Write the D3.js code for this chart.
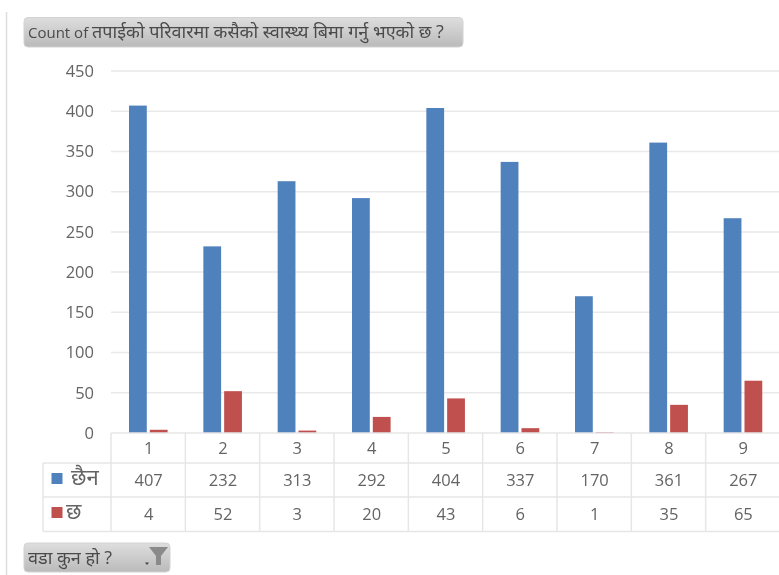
<!DOCTYPE html>
<html>

<head>
    <title>Health insurance by ward</title>
    <script src="https://d3js.org/d3.v7.min.js"></script>
    <style>
        body {
            overflow: hidden;
            margin: 0;
            padding: 0;
            background: #fff;
        }

        svg {
            display: block;
            font-family: "Open Sans", "Noto Sans", sans-serif;
            filter: blur(0.45px);
        }
    </style>
</head>

<body>
    <script>
        var width = 779,
            height = 575;

        var wards = ["1", "2", "3", "4", "5", "6", "7", "8", "9"];
        var chhaina = [407, 232, 313, 292, 404, 337, 170, 361, 267];
        var chha = [4, 52, 3, 20, 43, 6, 1, 35, 65];
        var seriesNames = ["छैन", "छ"];
        var seriesColors = ["#4f81bd", "#c0504d"];
        var yTicks = [0, 50, 100, 150, 200, 250, 300, 350, 400, 450];
        var titlePrefix = "Count of ";
        var titleText = "तपाईको परिवारमा कसैको स्वास्थ्य बिमा गर्नु भएको छ ?";
        var filterText = "वडा कुन हो ?";

        var series = [chhaina, chha];

        var svg = d3.select("body").append("svg")
            .attr("width", width)
            .attr("height", height);

        var defs = svg.append("defs");
        var grad = defs.append("linearGradient")
            .attr("id", "btn")
            .attr("x1", 0).attr("y1", 0).attr("x2", 0).attr("y2", 1);
        grad.append("stop").attr("offset", "0%").attr("stop-color", "#dedede");
        grad.append("stop").attr("offset", "100%").attr("stop-color", "#bababa");

        var left = 111,
            right = 780,
            top0 = 71,
            base = 433;

        var x = d3.scaleBand().domain(wards).range([left, right]);
        var inner = d3.scaleBand().domain([0, 1]).range([18, 56]).paddingInner(0.12);
        var y = d3.scaleLinear().domain([0, 450]).range([base, top0]);

        // page edge on the left
        svg.append("line")
            .attr("x1", 6.5).attr("x2", 6.5)
            .attr("y1", 12).attr("y2", height)
            .attr("stroke", "#dedede").attr("stroke-width", 1.5);

        // gridlines
        svg.append("g").selectAll("line")
            .data(yTicks.filter((d) => d > 0))
            .join("line")
            .attr("x1", left).attr("x2", right)
            .attr("y1", (d) => y(d)).attr("y2", (d) => y(d))
            .attr("stroke", "#e9e9e9").attr("stroke-width", 1.5);

        // y axis labels
        var yAxis = d3.axisLeft(y).tickValues(yTicks).tickSize(0).tickPadding(0);
        var yg = svg.append("g").attr("transform", "translate(94,0)").call(yAxis);
        yg.select(".domain").remove();
        yg.selectAll("text")
            .attr("font-family", '"Open Sans", sans-serif')
            .attr("font-size", 16.5)
            .attr("fill", "#646464");

        // bars
        series.forEach((values, s) => {
            svg.append("g").selectAll("rect")
                .data(values)
                .join("rect")
                .attr("x", (d, i) => x(wards[i]) + inner(s) + (s == 1 ? 0.6 : 0))
                .attr("y", (d) => y(d))
                .attr("width", inner.bandwidth())
                .attr("height", (d) => base - y(d))
                .attr("fill", seriesColors[s]);
        });

        // data table
        var rowLines = [433, 463, 497, 531.5];
        var tableLeft = 43;
        var grid = svg.append("g")
            .attr("stroke", "#e6e6e6")
            .attr("stroke-width", 1.5);

        grid.selectAll(".h")
            .data(rowLines)
            .join("line")
            .attr("x1", (d, i) => i == 0 ? left : tableLeft)
            .attr("x2", right)
            .attr("y1", (d) => d).attr("y2", (d) => d);

        grid.selectAll(".v")
            .data(wards)
            .join("line")
            .attr("x1", (d) => x(d)).attr("x2", (d) => x(d))
            .attr("y1", base).attr("y2", rowLines[3]);

        grid.append("line")
            .attr("x1", tableLeft).attr("x2", tableLeft)
            .attr("y1", rowLines[1]).attr("y2", rowLines[3]);

        var cellText = svg.append("g")
            .attr("font-size", 16.5)
            .attr("fill", "#646464")
            .attr("text-anchor", "middle");

        cellText.selectAll(".ward")
            .data(wards)
            .join("text")
            .attr("x", (d) => x(d) + x.bandwidth() / 2 + 0.5)
            .attr("y", 454)
            .text((d) => d);

        series.forEach((values, s) => {
            cellText.append("g").selectAll("text")
                .data(values)
                .join("text")
                .attr("x", (d, i) => x(wards[i]) + x.bandwidth() / 2 + 0.5)
                .attr("y", s == 0 ? 486 : 520)
                .text((d) => d);
        });

        // legend keys in the table
        var legendY = [479, 513];
        var legendX = [71, 66];
        seriesNames.forEach((name, s) => {
            svg.append("rect")
                .attr("x", 51.5)
                .attr("y", legendY[s] - 6)
                .attr("width", 11).attr("height", 11)
                .attr("fill", seriesColors[s]);
            svg.append("text")
                .attr("x", legendX[s])
                .attr("y", legendY[s] + 6)
                .attr("font-size", 22)
                .attr("fill", "#646464")
                .text(name);
        });

        // field buttons
        function button(bx, by, bw, bh) {
            var g = svg.append("g");
            g.append("rect")
                .attr("x", bx).attr("y", by)
                .attr("width", bw).attr("height", bh)
                .attr("rx", 4)
                .attr("fill", "url(#btn)")
                .attr("stroke", "#d2d2d2");
            return g;
        }

        var titleBtn = button(24, 17.5, 439, 29.5);
        var titleLabel = titleBtn.append("text")
            .attr("x", 28)
            .attr("y", 38)
            .attr("fill", "#4a4a4a")
            .attr("font-size", 15);
        titleLabel.append("tspan").text(titlePrefix);
        titleLabel.append("tspan").attr("font-size", 18).text(titleText);

        var filterBtn = button(24, 543, 146, 29);
        filterBtn.append("text")
            .attr("x", 28)
            .attr("y", 564)
            .attr("font-size", 18)
            .attr("fill", "#4a4a4a")
            .text(filterText);

        // filter funnel icon
        filterBtn.append("path")
            .attr("d", d3.line()([[149, 547], [168, 547], [161, 556], [161, 565], [156, 565], [156, 556]]) + "Z")
            .attr("fill", "#8a8a8a");
        filterBtn.append("path")
            .attr("d", d3.line()([[145, 562.5], [149, 562.5], [147, 565]]) + "Z")
            .attr("fill", "#444");
    </script>
</body>

</html>
